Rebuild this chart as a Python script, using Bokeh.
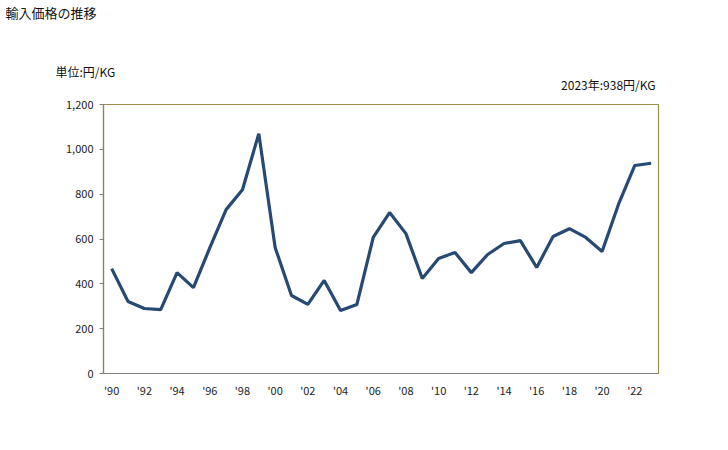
from bokeh.plotting import figure
from bokeh.models import Title, FixedTicker, NumeralTickFormatter, Range1d
from bokeh.embed import file_html
from bokeh.resources import INLINE

years = list(range(1990, 2024))
prices = [468, 321, 290, 285, 450, 383, 560, 731, 820, 1070,
          562, 348, 308, 415, 281, 308, 607, 718, 624, 424,
          513, 540, 450, 531, 580, 593, 473, 611, 646, 607,
          544, 754, 928, 938]
x_ticks = list(range(1990, 2023, 2))
x_labels = {y: "'" + str(y)[2:] for y in x_ticks}
y_ticks = [0, 200, 400, 600, 800, 1000, 1200]

FONT = "Noto Sans CJK JP"

p = figure(width=720, height=440, output_backend="svg", toolbar_location=None,
           x_range=Range1d(1989.5, 2023.45), y_range=Range1d(0, 1200),
           min_border_left=103, min_border_right=62, min_border_top=0, min_border_bottom=67)
p.line(years, prices, line_color="#264a73", line_width=3.2)

p.xgrid.visible = False
p.ygrid.visible = False
p.outline_line_color = "#9a8f4f"
p.outline_line_width = 1.2

p.xaxis.ticker = FixedTicker(ticks=x_ticks)
p.xaxis.major_label_overrides = x_labels
p.yaxis.ticker = FixedTicker(ticks=y_ticks)
p.yaxis.formatter = NumeralTickFormatter(format="0,0")
for ax in (p.xaxis, p.yaxis):
    ax.axis_line_color = "#808080"
    ax.axis_line_width = 1.2
    ax.major_tick_line_color = "#808080"
    ax.minor_tick_line_color = None
    ax.major_label_text_font = FONT
    ax.major_label_text_font_size = "11px"
    ax.major_label_text_color = "#222222"
p.xaxis.major_tick_out = 0
p.xaxis.major_tick_in = 0
p.xaxis.major_label_standoff = 8
p.yaxis.major_tick_out = 4
p.yaxis.major_tick_in = 0
p.yaxis.major_label_standoff = 6


def spacer(s):
    return Title(text=" ", standoff=s, text_font=FONT, text_font_size="12px")


p.add_layout(spacer(-1.5), "above")
p.add_layout(Title(text="2023年:938円/KG", align="right", offset=3, standoff=-12,
                   text_font=FONT, text_font_size="12px", text_font_style="normal",
                   text_color="#111111"), "above")
p.add_layout(Title(text="単位:円/KG", align="left", offset=-48, standoff=0,
                   text_font=FONT, text_font_size="12px", text_font_style="normal",
                   text_color="#111111"), "above")
p.add_layout(spacer(20), "above")
p.title.text = "輸入価格の推移"
p.title.align = "left"
p.title.offset = -98
p.title.standoff = 0
p.title.text_font = FONT
p.title.text_font_size = "13px"
p.title.text_font_style = "normal"
p.title.text_color = "#111111"

open("out.html", "w").write(file_html(p, INLINE))
